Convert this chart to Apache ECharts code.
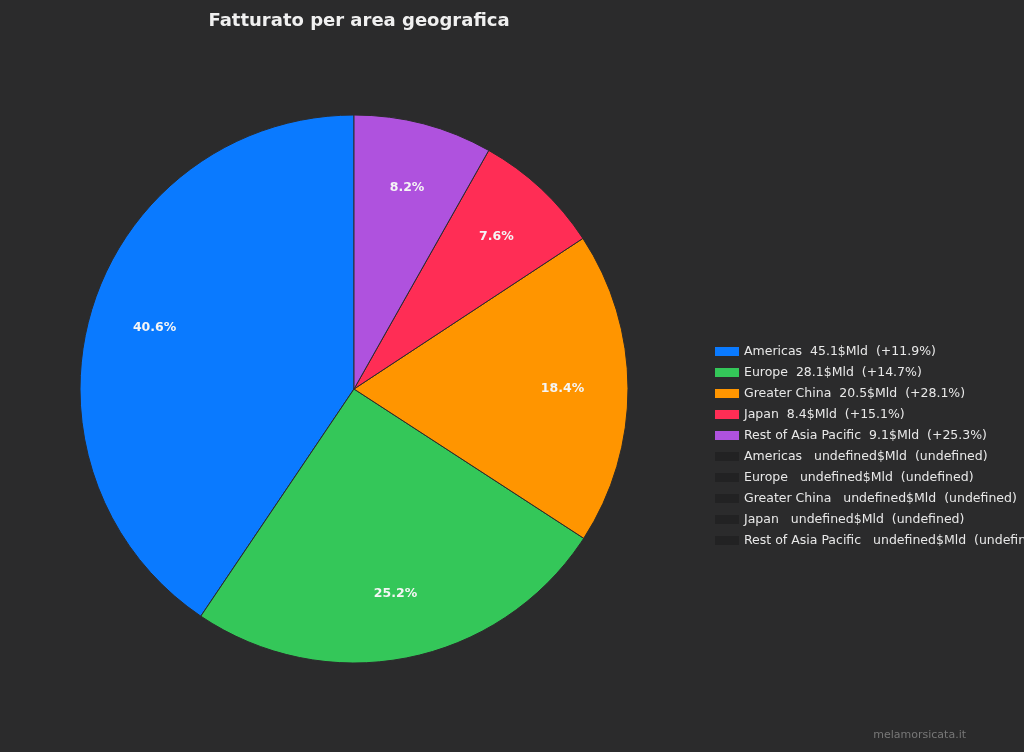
<!DOCTYPE html>
<html><head><meta charset="utf-8">
<script src="https://cdn.jsdelivr.net/npm/echarts@6/dist/echarts.min.js"></script>
<style>html,body{margin:0;background:#2b2b2c}#c{width:1024px;height:752px}</style>
</head><body><div id="c"></div>
<script>
const regions = ['Americas','Europe','Greater China','Japan','Rest of Asia Pacific'];
const values = [45.1, 28.1, 20.5, 8.4, 9.1];
const pctLabels = ['40.6%','25.2%','18.4%','7.6%','8.2%'];
const growth = ['+11.9%','+14.7%','+28.1%','+15.1%','+25.3%'];
const colors = ['#0A7AFF','#34C759','#FF9500','#FF2D55','#AF52DE'];
const total = '111.2';

const chart = echarts.init(document.getElementById('c'));
const data = regions.map((r,i)=>({name:r, value:values[i], itemStyle:{color:colors[i]}}));
chart.setOption({
  backgroundColor:'#2b2b2c',
  title:{text:'Fatturato per area geografica', left:354, top:7, textAlign:'center',
    textStyle:{color:'#f0f0f0', fontSize:18, fontWeight:'bold', fontFamily:'DejaVu Sans'}},
  legend:{orient:'vertical', left:710, top:340, itemWidth:24, itemHeight:9, itemGap:8, itemStyle:{borderWidth:0},
    icon:'rect',
    textStyle:{color:'#e8e8e8', fontSize:12.5, fontFamily:'DejaVu Sans'},
    formatter:n=>{const i=regions.indexOf(n);return `${n}  ${values[i]}$Mld  (${growth[i]})`;}},
  series:[
    {type:'pie', center:[354,389], radius:[0,274], startAngle:90, clockwise:false,
     data, label:{show:false}, labelLine:{show:false},
     itemStyle:{borderColor:'#2b2b2c', borderWidth:1}, emphasis:{disabled:true}},
    {type:'pie', center:[354,389], radius:[137,274], startAngle:90, clockwise:false, silent:true,
     legendHoverLink:false,
     data:regions.map((r,i)=>({name:r+' ', value:values[i], itemStyle:{color:'rgba(0,0,0,0)'},
       label:{formatter:pctLabels[i]}})),
     label:{show:true, position:'inside', color:'#f5f5f5', fontSize:12.5, fontWeight:'bold', fontFamily:'DejaVu Sans'},
     labelLine:{show:false}, emphasis:{disabled:true}}
  ],
  graphic:[
    {type:'text', left:'center', x:354, style:{
      text:'{a|'+total+'}{b|Mld}', x:354, y:389, align:'center', verticalAlign:'middle',
      rich:{a:{fill:'#f5f5f5', fontSize:19, fontFamily:'DejaVu Sans'},
            b:{fill:'#f5f5f5', fontSize:19, fontWeight:'bold', fontFamily:'DejaVu Sans'}}}},
    {type:'text', style:{text:'melamorsicata.it', x:966, y:735, align:'right', verticalAlign:'middle',
      fill:'#777', fontSize:11, fontFamily:'DejaVu Sans'}}
  ]
});
</script></body></html>
